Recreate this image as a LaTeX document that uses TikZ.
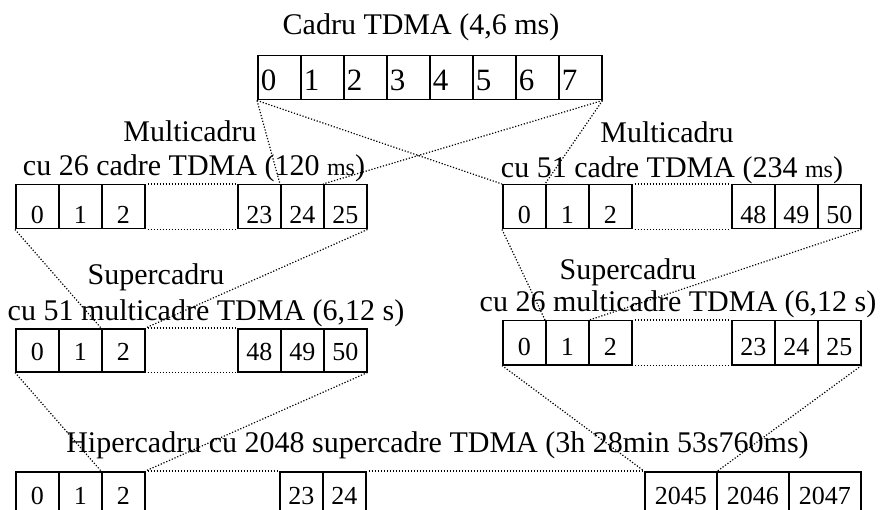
\documentclass[tikz,border=0pt]{standalone}
\usepackage{fontspec}
\setmainfont{Liberation Serif}
\begin{document}
\begin{tikzpicture}[x=1pt,y=-1pt,
  slot/.style={draw, line width=1.5pt, anchor=north west, inner sep=0pt,
    minimum width=43pt, minimum height=44pt, text depth=0pt,
    font=\fontsize{26}{26}\selectfont},
  topslot/.style={slot, text width=37pt, inner xsep=3pt, align=left,
    text height=26pt, font=\fontsize{31}{31}\selectfont},
  wideslot/.style={slot, minimum width=72pt},
  lbl/.style={anchor=base, inner sep=0pt, font=\fontsize{30}{30}\selectfont},
  link/.style={line width=1.2pt, dash pattern=on 1.2pt off 1.8pt},
  gap/.style={link, shorten <=2pt, shorten >=2pt}
]
\useasboundingbox (0,0) rectangle (880,510);

% TDMA frame with its eight timeslots
\foreach \i in {0,...,7}
  \node[topslot] (t\i) at (257+43*\i,55) {\i};
\node[lbl] (ttl) at (421,35) {Cadru TDMA (4,6 ms)};

% 26-frame multiframe
\foreach \n/\x in {0/15,1/58,2/101,23/237,24/280,25/323}
  \node[slot, text height=34pt] (ma\n) at (\x,184) {\n};
\node[lbl] (maT1) at (190,142) {Multicadru};
\node[lbl] (maT2) at (194,176) {cu 26 cadre TDMA (120 {\fontsize{24}{24}\selectfont ms})};

% 51-frame multiframe
\foreach \n/\x in {0/502,1/545,2/588,48/731,49/774,50/817}
  \node[slot, text height=34pt] (mb\n) at (\x,184) {\n};
\node[lbl] (mbT1) at (667,143) {Multicadru};
\node[lbl] (mbT2) at (672,178) {cu 51 cadre TDMA (234 {\fontsize{24}{24}\selectfont ms})};

% superframe of 51 multiframes
\foreach \n/\x in {0/15,1/58,2/101,48/237,49/280,50/323}
  \node[slot, minimum height=43pt, text height=21pt] (sa\n) at (\x,328) {\n};
\node[lbl] (saT1) at (156,285) {Supercadru};
\node[lbl] (saT2) at (206,320) {cu 51 multicadre TDMA (6,12 s)};

% superframe of 26 multiframes
\foreach \n/\x in {0/502,1/545,2/588,23/731,24/774,25/817}
  \node[slot, text height=26pt] (sb\n) at (\x,320) {\n};
\node[lbl] (sbT1) at (628,280) {Supercadru};
\node[lbl] (sbT2) at (678,312) {cu 26 multicadre TDMA (6,12 s)};

% hyperframe
\foreach \n/\x in {0/15,1/58,2/101,23/279,24/322}
  \node[slot, text height=22pt] (h\n) at (\x,471) {\n};
\foreach \n/\x in {2045/644,2046/716,2047/788}
  \node[wideslot, text height=22pt] (h\n) at (\x,471) {\n};
\node[lbl] (hT) at (437.5,452) {Hipercadru cu 2048 supercadre TDMA (3h 28min 53s760ms)};

% omitted slots
\foreach \r/\a/\b in {ma/2/23, mb/2/48, sa/2/48, sb/2/23} {
  \draw[gap] (\r\a.north east) -- (\r\b.north west);
  \draw[gap] (\r\a.south east) -- (\r\b.south west);
}
\draw[gap] (h2.north east) -- (h23.north west);
\draw[gap] (h24.north east) -- (h2045.north west);

% expansion lines
\draw[link] (t0.south west) -- (ma24.north west);
\draw[link] (t7.south east) -- (ma25.north west);
\draw[link] (t0.south west) -- (mb0.north west);
\draw[link] (t7.south east) -- (mb1.north west);
\draw[link] (ma0.south west) -- (sa2.north west);
\draw[link] (ma25.south east) -- (sa2.north east);
\draw[link] (mb0.south west) -- (sb1.north west);
\draw[link] (mb50.south east) -- (sb1.north east);
\draw[link] (sa0.south west) -- (h2.north west);
\draw[link] (sa50.south east) -- (h2.north east);
\draw[link] (sb0.south west) -- (h2045.north west);
\draw[link] (sb25.south east) -- (h2045.north east);
\end{tikzpicture}
\end{document}
